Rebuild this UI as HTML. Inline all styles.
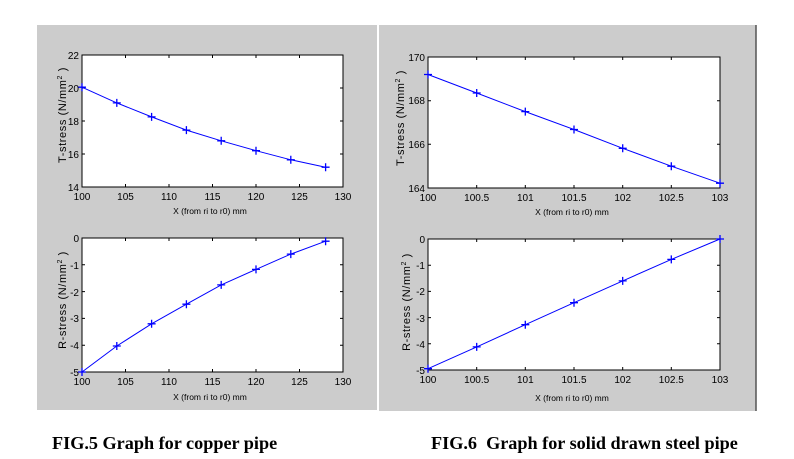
<!DOCTYPE html>
<html><head><meta charset="utf-8"><style>
html,body{margin:0;padding:0;background:#fff;width:794px;height:459px;overflow:hidden}
svg{display:block}
.t{font-family:"Liberation Sans",sans-serif;font-size:10px;fill:#000}
.l{font-family:"Liberation Sans",sans-serif;font-size:8.5px;fill:#000}
.y{font-family:"Liberation Sans",sans-serif;font-size:11px;letter-spacing:0.6px;fill:#000}
.c{font-family:"Liberation Serif",serif;font-size:18.2px;font-weight:bold;fill:#000}
.ln{fill:none;stroke:#0000ff;stroke-width:1}
.m{stroke:#0000ff;stroke-width:1.3;fill:none}
.ax{fill:#fff;stroke:#000;stroke-width:1}
.tk{stroke:#000;stroke-width:1}
</style></head><body>
<svg width="794" height="459" viewBox="0 0 794 459" xmlns="http://www.w3.org/2000/svg">
<rect x="37" y="25" width="340" height="385" fill="#cccccc"/>
<rect x="379" y="25" width="377" height="386" fill="#cccccc"/>
<line x1="756" y1="25" x2="756" y2="411" stroke="#555" stroke-width="1.5"/>

<!-- Left top -->
<rect class="ax" x="82" y="55" width="261" height="132"/>
<g class="tk">
<path d="M125.5 187v-3M169 187v-3M212.5 187v-3M256 187v-3M299.5 187v-3M125.5 55v3M169 55v3M212.5 55v3M256 55v3M299.5 55v3M82 154h3M82 121h3M82 88h3M343 154h-3M343 121h-3M343 88h-3"/>
</g>
<polyline class="ln" points="82,87.2 116.8,102.9 151.6,116.9 186.4,130.1 221.2,140.8 256,150.7 290.8,159.8 325.6,167.2"/>
<path class="m" d="M78 87.2h8M82 83.2v8M112.8 102.9h8M116.8 98.9v8M147.6 116.9h8M151.6 112.9v8M182.4 130.1h8M186.4 126.1v8M217.2 140.8h8M221.2 136.8v8M252 150.7h8M256 146.7v8M286.8 159.8h8M290.8 155.8v8M321.6 167.2h8M325.6 163.2v8"/>
<g class="t" text-anchor="middle">
<text x="82" y="200">100</text><text x="125.5" y="200">105</text><text x="169" y="200">110</text><text x="212.5" y="200">115</text><text x="256" y="200">120</text><text x="299.5" y="200">125</text><text x="343" y="200">130</text>
</g>
<g class="t" text-anchor="end">
<text x="79" y="191">14</text><text x="79" y="158">16</text><text x="79" y="125">18</text><text x="79" y="92">20</text><text x="79" y="59">22</text>
</g>
<text class="l" x="210" y="214" text-anchor="middle">X (from ri to r0) mm</text>
<text class="y" transform="translate(66,115) rotate(-90)" text-anchor="middle">T-stress (N/mm<tspan dy="-4" font-size="7">2</tspan><tspan dy="4"> )</tspan></text>

<!-- Left bottom -->
<rect class="ax" x="82" y="238" width="261" height="134"/>
<g class="tk">
<path d="M125.5 372v-3M169 372v-3M212.5 372v-3M256 372v-3M299.5 372v-3M125.5 238v3M169 238v3M212.5 238v3M256 238v3M299.5 238v3M82 264.8h3M82 291.6h3M82 318.4h3M82 345.2h3M343 264.8h-3M343 291.6h-3M343 318.4h-3M343 345.2h-3"/>
</g>
<polyline class="ln" points="82,372 116.8,346 151.6,323.8 186.4,304.2 221.2,284.9 256,269.4 290.8,254.1 325.6,241.2"/>
<path class="m" d="M78 372h8M82 368v8M112.8 346h8M116.8 342v8M147.6 323.8h8M151.6 319.8v8M182.4 304.2h8M186.4 300.2v8M217.2 284.9h8M221.2 280.9v8M252 269.4h8M256 265.4v8M286.8 254.1h8M290.8 250.1v8M321.6 241.2h8M325.6 237.2v8"/>
<g class="t" text-anchor="middle">
<text x="82" y="385">100</text><text x="125.5" y="385">105</text><text x="169" y="385">110</text><text x="212.5" y="385">115</text><text x="256" y="385">120</text><text x="299.5" y="385">125</text><text x="343" y="385">130</text>
</g>
<g class="t" text-anchor="end">
<text x="79" y="376">-5</text><text x="79" y="349">-4</text><text x="79" y="322">-3</text><text x="79" y="296">-2</text><text x="79" y="269">-1</text><text x="79" y="242">0</text>
</g>
<text class="l" x="210" y="400" text-anchor="middle">X (from ri to r0) mm</text>
<text class="y" transform="translate(66,300) rotate(-90)" text-anchor="middle">R-stress (N/mm<tspan dy="-4" font-size="7">2</tspan><tspan dy="4"> )</tspan></text>

<!-- Right top -->
<rect class="ax" x="428" y="57" width="292" height="131"/>
<g class="tk">
<path d="M476.7 188v-3M525.3 188v-3M574 188v-3M622.7 188v-3M671.3 188v-3M476.7 57v3M525.3 57v3M574 57v3M622.7 57v3M671.3 57v3M428 144.3h3M428 100.7h3M720 144.3h-3M720 100.7h-3"/>
</g>
<polyline class="ln" points="428,74.5 476.7,93 525.3,111.6 574,129.5 622.7,148.3 671.3,166.2 720,183.2"/>
<path class="m" d="M424 74.5h8M428 70.5v8M472.7 93h8M476.7 89v8M521.3 111.6h8M525.3 107.6v8M570 129.5h8M574 125.5v8M618.7 148.3h8M622.7 144.3v8M667.3 166.2h8M671.3 162.2v8M716 183.2h8M720 179.2v8"/>
<g class="t" text-anchor="middle">
<text x="428" y="201">100</text><text x="476.7" y="201">100.5</text><text x="525.3" y="201">101</text><text x="574" y="201">101.5</text><text x="622.7" y="201">102</text><text x="671.3" y="201">102.5</text><text x="720" y="201">103</text>
</g>
<g class="t" text-anchor="end">
<text x="425" y="192">164</text><text x="425" y="148">166</text><text x="425" y="104">168</text><text x="425" y="61">170</text>
</g>
<text class="l" x="572" y="215" text-anchor="middle">X (from ri to r0) mm</text>
<text class="y" transform="translate(404,118) rotate(-90)" text-anchor="middle">T-stress (N/mm<tspan dy="-4" font-size="7">2</tspan><tspan dy="4"> )</tspan></text>

<!-- Right bottom -->
<rect class="ax" x="428" y="239" width="292" height="131"/>
<g class="tk">
<path d="M476.7 370v-3M525.3 370v-3M574 370v-3M622.7 370v-3M671.3 370v-3M476.7 239v3M525.3 239v3M574 239v3M622.7 239v3M671.3 239v3M428 265.2h3M428 291.4h3M428 317.6h3M428 343.8h3M720 265.2h-3M720 291.4h-3M720 317.6h-3M720 343.8h-3"/>
</g>
<polyline class="ln" points="428,368.7 476.7,346.9 525.3,324.7 574,302.7 622.7,280.9 671.3,259.4 720,239"/>
<path class="m" d="M424 368.7h8M428 364.7v8M472.7 346.9h8M476.7 342.9v8M521.3 324.7h8M525.3 320.7v8M570 302.7h8M574 298.7v8M618.7 280.9h8M622.7 276.9v8M667.3 259.4h8M671.3 255.4v8M716 239h8M720 235v8"/>
<g class="t" text-anchor="middle">
<text x="428" y="383">100</text><text x="476.7" y="383">100.5</text><text x="525.3" y="383">101</text><text x="574" y="383">101.5</text><text x="622.7" y="383">102</text><text x="671.3" y="383">102.5</text><text x="720" y="383">103</text>
</g>
<g class="t" text-anchor="end">
<text x="425" y="374">-5</text><text x="425" y="348">-4</text><text x="425" y="322">-3</text><text x="425" y="295">-2</text><text x="425" y="269">-1</text><text x="425" y="243">0</text>
</g>
<text class="l" x="572" y="401" text-anchor="middle">X (from ri to r0) mm</text>
<text class="y" transform="translate(410,302) rotate(-90)" text-anchor="middle">R-stress (N/mm<tspan dy="-4" font-size="7">2</tspan><tspan dy="4"> )</tspan></text>

<text class="c" x="52" y="449">FIG.5 Graph for copper pipe</text>
<text class="c" x="431" y="449" xml:space="preserve">FIG.6  Graph for solid drawn steel pipe</text>
</svg>
</body></html>
